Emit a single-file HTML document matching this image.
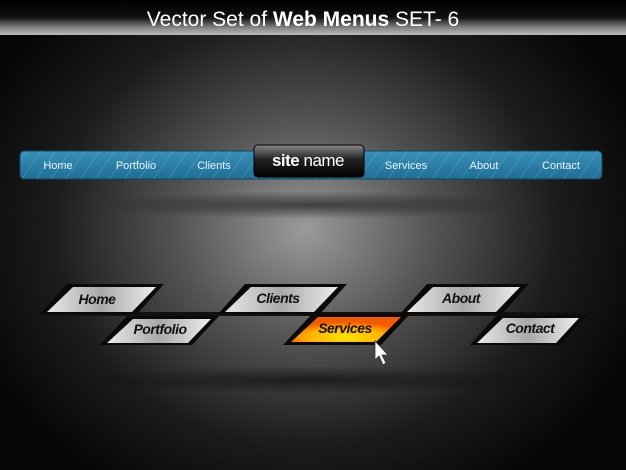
<!DOCTYPE html>
<html><head><meta charset="utf-8"><style>
html,body{margin:0;padding:0;width:626px;height:470px;overflow:hidden;background:#000}
svg{display:block}
</style></head><body>
<svg width="626" height="470" viewBox="0 0 626 470" xmlns="http://www.w3.org/2000/svg">
<defs>
<radialGradient id="bg" cx="305" cy="230" r="360" gradientUnits="userSpaceOnUse" gradientTransform="translate(305 230) scale(1 0.85) translate(-305 -230)">
<stop offset="0" stop-color="#9a9a9a"/><stop offset="0.35" stop-color="#555"/><stop offset="0.7" stop-color="#1c1c1c"/><stop offset="1" stop-color="#050505"/>
</radialGradient>
<radialGradient id="glow" cx="0.5" cy="0.5" r="0.5"><stop offset="0" stop-color="#000" stop-opacity="0.55"/><stop offset="1" stop-color="#000" stop-opacity="0"/></radialGradient>
<linearGradient id="hdr" x1="0" y1="0" x2="0" y2="1"><stop offset="0" stop-color="#000"/><stop offset="0.5" stop-color="#111"/><stop offset="0.8" stop-color="#888"/><stop offset="1" stop-color="#bbb"/></linearGradient>
<linearGradient id="blue" x1="0" y1="0" x2="0" y2="1"><stop offset="0" stop-color="#3a90b8"/><stop offset="1" stop-color="#1f6e96"/></linearGradient>
<pattern id="str" width="12" height="12" patternUnits="userSpaceOnUse" patternTransform="rotate(35)"><rect width="12" height="12" fill="none"/><line x1="0" y1="0" x2="0" y2="12" stroke="#7fc0de" stroke-opacity="0.35" stroke-width="1.5"/></pattern>
<linearGradient id="blk" x1="0" y1="0" x2="0" y2="1"><stop offset="0" stop-color="#888"/><stop offset="0.45" stop-color="#222"/><stop offset="1" stop-color="#000"/></linearGradient>
<linearGradient id="silver" x1="0" y1="0" x2="1" y2="0"><stop offset="0" stop-color="#e8e8e8"/><stop offset="0.5" stop-color="#a9a9a9"/><stop offset="1" stop-color="#eee"/></linearGradient>
<radialGradient id="orange" cx="0.5" cy="0.8" r="0.6"><stop offset="0" stop-color="#ffe600"/><stop offset="0.6" stop-color="#ffb000"/><stop offset="1" stop-color="#f25a00"/></radialGradient>
</defs>
<rect width="626" height="470" fill="url(#bg)"/>
<ellipse cx="310" cy="205" rx="210" ry="14" fill="url(#glow)"/>
<ellipse cx="310" cy="380" rx="230" ry="14" fill="url(#glow)"/>
<rect x="0" y="0" width="626" height="35" fill="url(#hdr)"/>
<text x="303" y="26" text-anchor="middle" font-family="Liberation Sans, sans-serif" font-size="21" fill="#fff">Vector Set of <tspan font-weight="bold">Web Menus</tspan>  SET- 6</text>
<rect x="20" y="151" width="582" height="28" rx="4" fill="url(#blue)" stroke="#0f4660" stroke-width="1"/>
<rect x="20" y="151" width="582" height="28" rx="4" fill="url(#str)"/>
<g font-family="Liberation Sans, sans-serif" font-size="11" fill="#e8f4fa" text-anchor="middle">
<text x="58" y="169">Home</text><text x="136" y="169">Portfolio</text><text x="214" y="169">Clients</text>
<text x="406" y="169">Services</text><text x="484" y="169">About</text><text x="561" y="169">Contact</text>
</g>
<rect x="254" y="145" width="110" height="32" rx="4" fill="url(#blk)" stroke="#000"/>
<text x="308" y="166" text-anchor="middle" font-family="Liberation Sans, sans-serif" font-size="17" fill="#fff" letter-spacing="-0.5"><tspan font-weight="bold">site</tspan> name</text>
<rect x="40" y="312" width="550" height="4" fill="#111"/>
<g font-family="Liberation Sans, sans-serif" font-size="14" font-weight="bold" font-style="italic" text-anchor="middle" fill="#111" letter-spacing="-0.5">
<g transform="translate(67,284)"><polygon points="0,0 97,0 70,30 -27,30" fill="#0a0a0a"/><polygon points="6,3 89,3 65,28 -20,28" fill="url(#silver)"/><text x="30" y="20">Home</text></g>
<g transform="translate(127,316)"><polygon points="0,0 92,0 65,29 -27,29" fill="#0a0a0a"/><polygon points="6,3 84,3 61,27 -20,27" fill="url(#silver)"/><text x="33" y="18">Portfolio</text></g>
<g transform="translate(245,284)"><polygon points="0,0 102,0 75,30 -27,30" fill="#0a0a0a"/><polygon points="6,3 93,3 69,28 -20,28" fill="url(#silver)"/><text x="33" y="19">Clients</text></g>
<g transform="translate(312,314)"><polygon points="0,0 98,0 69,31 -29,31" fill="#0a0a0a"/><polygon points="6,3 89,3 64,28 -21,28" fill="url(#orange)"/><text x="33" y="19">Services</text></g>
<g transform="translate(427,284)"><polygon points="0,0 102,0 75,30 -27,30" fill="#0a0a0a"/><polygon points="6,3 93,3 69,28 -20,28" fill="url(#silver)"/><text x="34" y="19">About</text></g>
<g transform="translate(497,315)"><polygon points="0,0 90,0 63,30 -27,30" fill="#0a0a0a"/><polygon points="6,3 82,3 59,28 -20,28" fill="url(#silver)"/><text x="33" y="18">Contact</text></g>
</g>
<path d="M375,341 L375,360 L379,356 L383,365 L386,363 L382,355 L388,355 Z" fill="#fff" stroke="#333" stroke-width="0.8"/>
</svg>
</body></html>
